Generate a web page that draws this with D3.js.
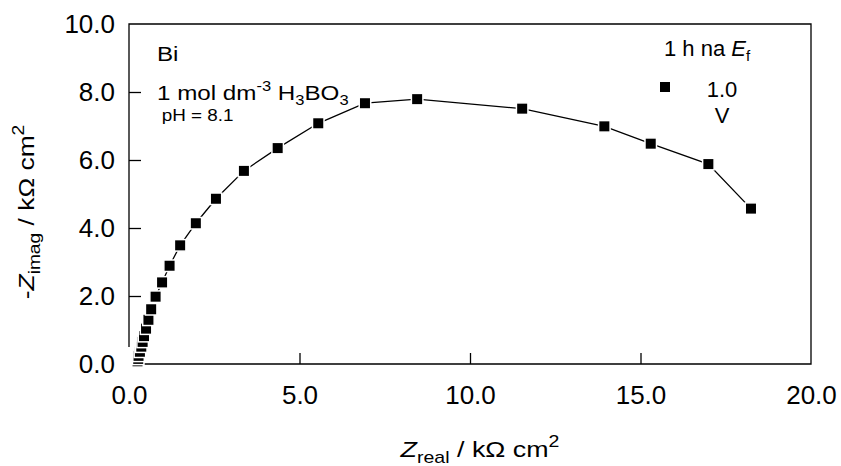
<!DOCTYPE html>
<html>
<head>
<meta charset="utf-8">
<script src="https://cdn.jsdelivr.net/npm/d3@7"></script>
<style>
  body { margin: 0; background: #fff; }
  svg { display: block; font-family: "Liberation Sans", Arial, sans-serif; }
</style>
</head>
<body>
<div id="chart"></div>
<script>
// Nyquist data, Bi in 1 mol dm-3 H3BO3, 1 h at Ef = 1.0 V
const zReal = [0.25, 0.27, 0.28, 0.32, 0.36, 0.40, 0.44, 0.50, 0.57, 0.65, 0.78, 0.97, 1.19,
               1.50, 1.96, 2.55, 3.37, 4.36, 5.55, 6.92, 8.45, 11.53, 13.94, 15.30, 16.99, 18.24];
const zImag = [0.08, 0.15, 0.24, 0.36, 0.51, 0.65, 0.82, 1.04, 1.30, 1.61, 1.98, 2.40, 2.89,
               3.49, 4.14, 4.86, 5.68, 6.35, 7.08, 7.67, 7.79, 7.51, 6.99, 6.48, 5.88, 4.57];
const xTicks = [0, 5, 10, 15, 20];
const yTicks = [0, 2, 4, 6, 8, 10];
const legendLabel = ['1.0', 'V'];

const W = 841, H = 466;
const plot = { left: 129, right: 811, top: 24, bottom: 364 };

const svg = d3.select('#chart').append('svg')
  .attr('width', W).attr('height', H);

const x = d3.scaleLinear().domain([0, 20]).range([plot.left, plot.right]);
const y = d3.scaleLinear().domain([0, 10]).range([plot.bottom, plot.top]);

const fmt = d3.format('.1f');

// x axis (inward ticks, only the inner ones get a tick line)
const gx = svg.append('g')
  .attr('transform', `translate(0,${plot.bottom})`)
  .call(d3.axisBottom(x).tickValues(xTicks).tickFormat(fmt)
    .tickSizeInner(-11).tickSizeOuter(0).tickPadding(22));
gx.select('.domain').remove();
gx.selectAll('.tick line').attr('stroke', '#000').attr('stroke-width', 1.3)
  .filter(d => d === 0 || d === 20).remove();
gx.selectAll('.tick text').attr('font-size', 26).attr('fill', '#000')
  .attr('font-family', '"Liberation Sans", Arial, sans-serif');

// y axis
const gy = svg.append('g')
  .attr('transform', `translate(${plot.left},0)`)
  .call(d3.axisLeft(y).tickValues(yTicks).tickFormat(fmt)
    .tickSizeInner(-12).tickSizeOuter(0).tickPadding(14));
gy.select('.domain').remove();
gy.selectAll('.tick line').attr('stroke', '#000').attr('stroke-width', 1.3)
  .filter(d => d === 0 || d === 10).remove();
gy.selectAll('.tick text').attr('font-size', 26).attr('fill', '#000')
  .attr('font-family', '"Liberation Sans", Arial, sans-serif');

// frame: offset axes at the origin, closed top and right
const frame = svg.append('g').attr('stroke', '#000').attr('stroke-width', 1.3).attr('fill', 'none');
frame.append('path').attr('d', `M${x(0)},${y(0.5)}V${y(10)}H${x(20)}V${y(0)}H${x(0.3)}`);

// data
const pts = zReal.map((v, i) => ({ x: v, y: zImag[i] }));
const line = d3.line().x(d => x(d.x)).y(d => y(d.y));

svg.append('path').datum(pts)
  .attr('fill', 'none').attr('stroke', '#000').attr('stroke-width', 1.3)
  .attr('d', line);

const sq = 11.5;
svg.append('g').selectAll('rect').data(pts).join('rect')
  .attr('x', d => x(d.x) - sq / 2).attr('y', d => y(d.y) - sq / 2)
  .attr('width', sq).attr('height', sq)
  .attr('fill', '#000').attr('stroke', '#fff').attr('stroke-width', 1.5);

// axis titles
const xt = svg.append('text')
  .attr('transform', 'translate(480,457) scale(1.22,1)')
  .attr('text-anchor', 'middle').attr('font-size', 22);
xt.append('tspan').attr('font-style', 'italic').text('Z');
xt.append('tspan').attr('font-size', 16).attr('dy', 6).text('real');
xt.append('tspan').attr('dy', -6).text(' / kΩ cm');
xt.append('tspan').attr('font-size', 16).attr('dy', -10).text('2');

const yt = svg.append('text')
  .attr('transform', 'translate(34,212) rotate(-90) scale(1.2,1)')
  .attr('text-anchor', 'middle').attr('font-size', 22);
yt.append('tspan').text('-');
yt.append('tspan').attr('font-style', 'italic').text('Z');
yt.append('tspan').attr('font-size', 16).attr('dy', 6).text('imag');
yt.append('tspan').attr('dy', -6).text(' / kΩ cm');
yt.append('tspan').attr('font-size', 16).attr('dy', -10).text('2');

// annotation
const ann = svg.append('g').attr('transform', 'translate(157,0) scale(1.18,1)');
ann.append('text').attr('y', 61).attr('font-size', 20.5).text('Bi');
const l2 = ann.append('text').attr('y', 100).attr('font-size', 20.5);
l2.append('tspan').text('1 mol dm');
l2.append('tspan').attr('font-size', 14).attr('dy', -9).text('-3');
l2.append('tspan').attr('dy', 9).text(' H');
l2.append('tspan').attr('font-size', 14).attr('dy', 5).text('3');
l2.append('tspan').attr('dy', -5).text('BO');
l2.append('tspan').attr('font-size', 14).attr('dy', 5).text('3');
ann.append('text').attr('x', 4).attr('y', 121).attr('font-size', 16).text('pH = 8.1');

// legend
const lg = svg.append('g');
const lt = lg.append('text').attr('x', 664).attr('y', 56).attr('font-size', 22);
lt.append('tspan').text('1 h na ');
lt.append('tspan').attr('font-style', 'italic').text('E');
lt.append('tspan').attr('font-size', 15).attr('dy', 5).text('f');
lg.append('rect').attr('x', 660).attr('y', 82).attr('width', 10).attr('height', 10).attr('fill', '#000');
lg.selectAll('text.lab').data(legendLabel).join('text').attr('class', 'lab')
  .attr('x', 722).attr('y', (d, i) => 97 + i * 26)
  .attr('text-anchor', 'middle').attr('font-size', 22).text(d => d);
</script>
</body>
</html>
